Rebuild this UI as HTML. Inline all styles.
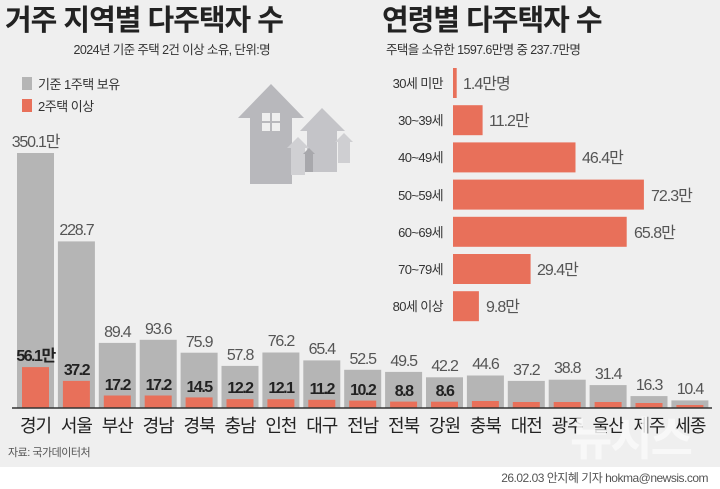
<!DOCTYPE html>
<html><head><meta charset="utf-8"><style>
html,body{margin:0;padding:0;background:#fff;}
svg{display:block;}
text{font-family:"Liberation Sans","Noto Sans CJK KR",sans-serif;}
</style></head><body>
<svg width="720" height="489" viewBox="0 0 720 489" xmlns="http://www.w3.org/2000/svg">
<rect x="0" y="0" width="720" height="467" fill="#efefef"/>
<text x="5" y="30" font-size="29" font-weight="bold" fill="#222" letter-spacing="-1">거주 지역별 다주택자 수</text>
<text x="382" y="30" font-size="29" font-weight="bold" fill="#222" letter-spacing="-1">연령별 다주택자 수</text>
<text x="270" y="54" font-size="12.5" fill="#333" text-anchor="end" letter-spacing="-0.6">2024년 기준 주택 2건 이상 소유, 단위:명</text>
<text x="386" y="54" font-size="12.5" fill="#333" letter-spacing="-0.6">주택을 소유한 1597.6만명 중 237.7만명</text>
<rect x="22" y="77" width="10" height="13" fill="#b5b5b5"/>
<text x="38" y="89" font-size="13" fill="#333" letter-spacing="-0.5">기준 1주택 보유</text>
<rect x="22" y="99" width="10" height="13" fill="#e8705a"/>
<text x="38" y="111" font-size="13" fill="#333" letter-spacing="-0.5">2주택 이상</text>
<g fill="#b8b8bc">
<polygon points="238,118 271,84 304,118 292,118 292,184 250,184 250,118"/>
<polygon points="300,131 322,108 345,131 337,131 337,172 307,172 307,131" fill="#c4c4c8"/>
<polygon points="287,148 298,137 309,148 305,148 305,175 291,175 291,148" fill="#d0d0d3"/>
<polygon points="335,142 344,133 353,142 350,142 350,163 338,163 338,142" fill="#cfcfd2"/>
<polygon points="303,154 309,148 315,154 313,154 313,172 305,172 305,154" fill="#a8a8ac"/>
</g>
<g fill="#efefef"><rect x="262" y="113" width="8" height="8"/><rect x="272" y="113" width="8" height="8"/><rect x="262" y="123" width="8" height="8"/><rect x="272" y="123" width="8" height="8"/></g>

<g fill="#b5b5b5">
<rect x="17" y="153" width="37" height="255"/>
<rect x="57.9" y="241.4" width="37" height="166.6"/>
<rect x="98.8" y="342.9" width="37" height="65.1"/>
<rect x="139.7" y="339.8" width="37" height="68.2"/>
<rect x="180.6" y="352.7" width="37" height="55.3"/>
<rect x="221.5" y="365.9" width="37" height="42.1"/>
<rect x="262.4" y="352.5" width="37" height="55.5"/>
<rect x="303.3" y="360.4" width="37" height="47.6"/>
<rect x="344.2" y="369.8" width="37" height="38.2"/>
<rect x="385.1" y="371.9" width="37" height="36.1"/>
<rect x="426" y="377.3" width="37" height="30.7"/>
<rect x="466.9" y="375.5" width="37" height="32.5"/>
<rect x="507.8" y="380.9" width="37" height="27.1"/>
<rect x="548.7" y="379.7" width="37" height="28.3"/>
<rect x="589.6" y="385.1" width="37" height="22.9"/>
<rect x="630.5" y="396.1" width="37" height="11.9"/>
<rect x="671.4" y="400.4" width="37" height="7.6"/>
</g>
<g fill="#e8705a">
<rect x="22" y="367.1" width="27" height="40.9"/>
<rect x="62.9" y="380.9" width="27" height="27.1"/>
<rect x="103.8" y="395.5" width="27" height="12.5"/>
<rect x="144.7" y="395.5" width="27" height="12.5"/>
<rect x="185.6" y="397.4" width="27" height="10.6"/>
<rect x="226.5" y="399.1" width="27" height="8.9"/>
<rect x="267.4" y="399.2" width="27" height="8.8"/>
<rect x="308.3" y="399.8" width="27" height="8.2"/>
<rect x="349.2" y="400.6" width="27" height="7.4"/>
<rect x="390.1" y="401.6" width="27" height="6.4"/>
<rect x="431" y="401.7" width="27" height="6.3"/>
<rect x="471.9" y="401" width="27" height="7"/>
<rect x="512.8" y="402" width="27" height="6"/>
<rect x="553.7" y="402" width="27" height="6"/>
<rect x="594.6" y="402" width="27" height="6"/>
<rect x="635.5" y="403" width="27" height="5"/>
<rect x="676.4" y="405" width="27" height="3"/>
</g>
<g font-size="16" fill="#555" text-anchor="middle" letter-spacing="-1.2">
<text x="35.5" y="147">350.1만</text>
<text x="76.4" y="235">228.7</text>
<text x="117.3" y="337">89.4</text>
<text x="158.2" y="334">93.6</text>
<text x="199.1" y="347">75.9</text>
<text x="240" y="360">57.8</text>
<text x="280.9" y="346">76.2</text>
<text x="321.8" y="354">65.4</text>
<text x="362.7" y="364">52.5</text>
<text x="403.6" y="366">49.5</text>
<text x="444.5" y="371">42.2</text>
<text x="485.4" y="369">44.6</text>
<text x="526.3" y="375">37.2</text>
<text x="567.2" y="373">38.8</text>
<text x="608.1" y="379">31.4</text>
<text x="649" y="390">16.3</text>
<text x="689.9" y="394">10.4</text>
</g>
<g font-size="16" font-weight="bold" fill="#222" text-anchor="middle" letter-spacing="-1.5">
<text x="35.5" y="361">56.1만</text>
<text x="76.4" y="375">37.2</text>
<text x="117.3" y="390">17.2</text>
<text x="158.2" y="390">17.2</text>
<text x="199.1" y="392">14.5</text>
<text x="240" y="393">12.2</text>
<text x="280.9" y="393">12.1</text>
<text x="321.8" y="394">11.2</text>
<text x="362.7" y="395">10.2</text>
<text x="403.6" y="396">8.8</text>
<text x="444.5" y="396">8.6</text>
</g>
<g font-size="18" fill="#222" text-anchor="middle" letter-spacing="-1">
<text x="35.5" y="432">경기</text><text x="76.4" y="432">서울</text><text x="117.3" y="432">부산</text><text x="158.2" y="432">경남</text><text x="199.1" y="432">경북</text><text x="240" y="432">충남</text><text x="280.9" y="432">인천</text><text x="321.8" y="432">대구</text><text x="362.7" y="432">전남</text><text x="403.6" y="432">전북</text><text x="444.5" y="432">강원</text><text x="485.4" y="432">충북</text><text x="526.3" y="432">대전</text><text x="567.2" y="432">광주</text><text x="608.1" y="432">울산</text><text x="649" y="432">제주</text><text x="689.9" y="432">세종</text>
</g>
<line x1="12" y1="408" x2="712" y2="408" stroke="#333" stroke-width="1.5"/>
<text x="8" y="456" font-size="11" fill="#555" letter-spacing="-0.5">자료: 국가데이터처</text>
<text x="570" y="455" font-size="46" font-weight="bold" fill="#fafafa" opacity="0.85" letter-spacing="-2">뉴시스</text>
<text x="708" y="482" font-size="12" fill="#555" text-anchor="end" letter-spacing="-0.5">26.02.03 안지혜 기자 hokma@newsis.com</text>

<g fill="#e8705a">
<rect x="453" y="68" width="3.7" height="30"/>
<rect x="453" y="105.2" width="29.6" height="30"/>
<rect x="453" y="142.4" width="122.5" height="30"/>
<rect x="453" y="179.6" width="190.9" height="30"/>
<rect x="453" y="216.8" width="173.7" height="30"/>
<rect x="453" y="254" width="77.6" height="30"/>
<rect x="453" y="291.2" width="25.9" height="30"/>
</g>
<g font-size="13" fill="#333" text-anchor="end" letter-spacing="-0.6">
<text x="443" y="88">30세 미만</text>
<text x="443" y="125">30~39세</text>
<text x="443" y="162">40~49세</text>
<text x="443" y="200">50~59세</text>
<text x="443" y="237">60~69세</text>
<text x="443" y="274">70~79세</text>
<text x="443" y="311">80세 이상</text>
</g>
<g font-size="16" fill="#555" letter-spacing="-1">
<text x="463" y="89">1.4만명</text>
<text x="489" y="126">11.2만</text>
<text x="582" y="163">46.4만</text>
<text x="651" y="201">72.3만</text>
<text x="634" y="238">65.8만</text>
<text x="537" y="275">29.4만</text>
<text x="486" y="312">9.8만</text>
</g>
</svg>
</body></html>
